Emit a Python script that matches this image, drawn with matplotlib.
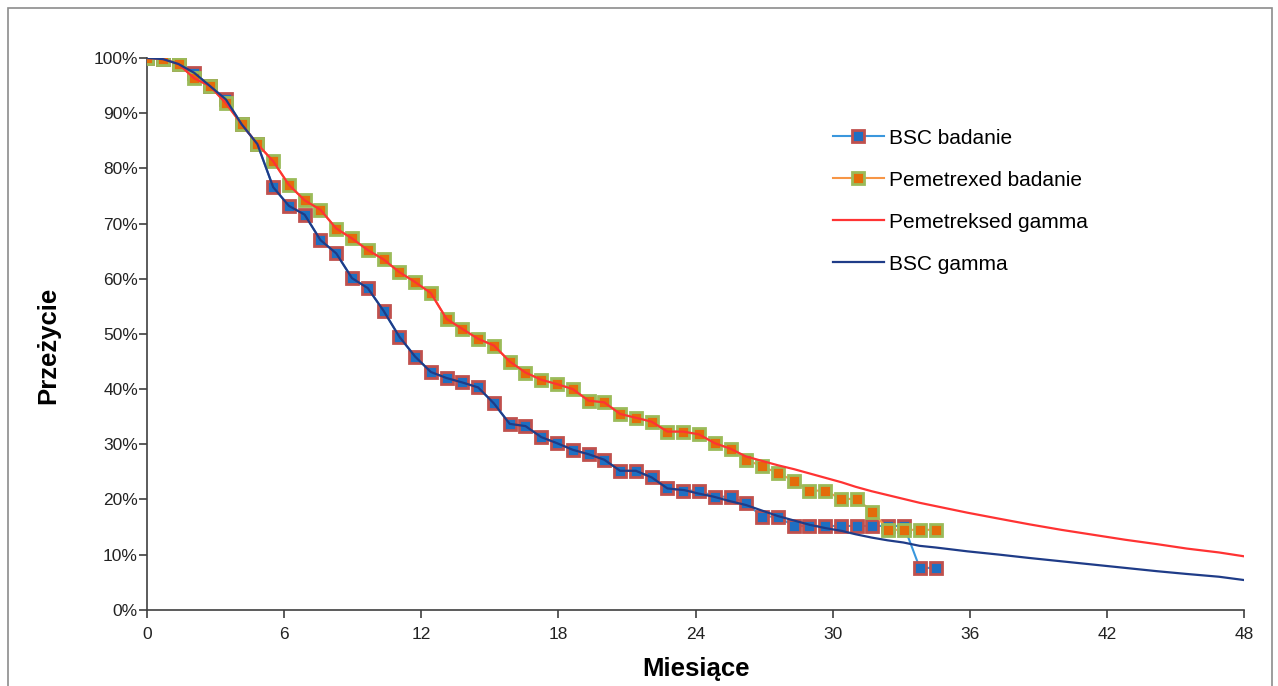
import numpy as np
import matplotlib
matplotlib.use('Agg')
import matplotlib.pyplot as plt
from matplotlib.patches import Rectangle
from matplotlib.ticker import PercentFormatter

plt.rcParams['font.family'] = ['Liberation Sans', 'DejaVu Sans']

# observation times, weeks (3-week grid), converted to months
weeks = [0, 3, 6, 9, 12, 15, 18, 21, 24, 27, 30, 33, 36, 39, 42, 45, 48, 51, 54, 57,
         60, 63, 66, 69, 72, 75, 78, 81, 84, 87, 90, 93, 96, 99, 102, 105, 108, 111,
         114, 117, 120, 123, 126, 129, 132, 135, 138, 141, 144, 147, 150]
months = [w / 4.348 for w in weeks]

# Kaplan-Meier survival, %
bsc_km = [100, 99.8, 98.9, 97.3, 94.9, 92.5, 88.0, 84.4, 76.6, 73.2,
          71.6, 67.0, 64.6, 60.1, 58.3, 54.2, 49.5, 45.9, 43.1, 42.0,
          41.2, 40.3, 37.4, 33.7, 33.3, 31.3, 30.2, 29.0, 28.2, 27.2,
          25.2, 25.2, 24.0, 22.0, 21.6, 21.6, 20.5, 20.5, 19.3, 16.9,
          16.9, 15.2, 15.2, 15.2, 15.2, 15.2, 15.2, 15.2, 15.2, 7.6, 7.6]
pem_km = [100, 99.8, 98.9, 96.3, 94.9, 91.8, 88.0, 84.4, 81.3, 77.0,
          74.2, 72.5, 69.1, 67.3, 65.2, 63.5, 61.2, 59.4, 57.4, 52.7,
          50.9, 49.1, 47.9, 45.0, 43.0, 41.7, 40.9, 40.0, 37.9, 37.6,
          35.5, 34.8, 34.1, 32.3, 32.3, 31.8, 30.2, 29.2, 27.2, 26.0,
          24.8, 23.4, 21.6, 21.6, 20.1, 20.1, 17.8, 14.5, 14.5, 14.5, 14.5]

# gamma fits: identical to KM early on, then smooth tail
tail_months = [26.2, 26.9, 27.6, 28.3, 29.0, 29.7, 30.4, 31.0, 31.7, 32.4, 33.1,
               33.8, 34.5, 35.9, 37.3, 38.6, 40.0, 41.4, 42.8, 44.2, 45.5, 46.9, 48.0]
pem_tail = [27.8, 27.0, 26.2, 25.5, 24.7, 23.9, 23.1, 22.3, 21.5, 20.8, 20.1,
            19.4, 18.8, 17.6, 16.5, 15.5, 14.5, 13.6, 12.7, 11.9, 11.1, 10.4, 9.7]
bsc_tail_months = [23.5, 24.1, 24.8, 25.5] + tail_months
bsc_tail = [21.7, 21.1, 20.5, 19.7, 19.0, 18.0, 17.0, 16.2, 15.4, 14.8, 14.3, 13.7,
            13.1, 12.6, 12.2, 11.6, 11.3, 10.6, 10.0, 9.4, 8.8, 8.2, 7.6, 7.0, 6.5,
            6.0, 5.4]

pem_gamma_x = months[:38] + tail_months
pem_gamma_y = pem_km[:38] + pem_tail
bsc_gamma_x = months[:34] + bsc_tail_months
bsc_gamma_y = bsc_km[:34] + bsc_tail

fig = plt.figure(figsize=(12.78, 6.86), dpi=100)
ax = fig.add_axes([0.115, 0.111, 0.8585, 0.8045])

ax.plot(months, bsc_km, color='#3A97DD', lw=1.5, marker='s', ms=8,
        mfc='#1E6FC2', mec='#C0504D', mew=2, label='BSC badanie', zorder=3)
ax.plot(months, pem_km, color='#F79646', lw=1.5, marker='s', ms=8,
        mfc='#E46C0A', mec='#9BBB59', mew=2, label='Pemetrexed badanie', zorder=3)
ax.plot(pem_gamma_x, pem_gamma_y, color='#FF3333', lw=1.6,
        label='Pemetreksed gamma', zorder=4)
ax.plot(bsc_gamma_x, bsc_gamma_y, color='#1F3C88', lw=1.6,
        label='BSC gamma', zorder=4)

ax.set_xlim(0, 48)
ax.set_ylim(0, 100)
ax.set_xticks(range(0, 49, 6))
ax.set_yticks(range(0, 101, 10))
ax.yaxis.set_major_formatter(PercentFormatter(decimals=0))
for s in ['top', 'right']:
    ax.spines[s].set_visible(False)
for s in ['left', 'bottom']:
    ax.spines[s].set_color('#404040')
    ax.spines[s].set_linewidth(1.2)
ax.tick_params(direction='out', length=6, width=1.2, color='#404040',
               labelsize=12.5, labelcolor='#222222')
ax.tick_params(axis='x', pad=6)
ax.tick_params(axis='y', pad=0.5)

ax.set_xlabel('Miesiące', fontsize=18.5, fontweight='bold', va='center')
ax.xaxis.set_label_coords(0.5, -0.107)
ax.set_ylabel('Przeżycie', fontsize=18.5, fontweight='bold', va='center')
ax.yaxis.set_label_coords(-0.09, 0.48)

ax.legend(loc='upper left', bbox_to_anchor=(814 / 1278, 1 - 110 / 686),
          bbox_transform=fig.transFigure, frameon=False, fontsize=15,
          handlelength=2.45, handletextpad=0.25, labelspacing=1.1)

# outer chart frame
fig.patches.append(Rectangle((8 / 1278, -0.05), 1264 / 1278, 1.05 - 8 / 686,
                             transform=fig.transFigure, fill=False,
                             edgecolor='#8C8C8C', lw=1.2))

fig.savefig('out.png', dpi=100)
